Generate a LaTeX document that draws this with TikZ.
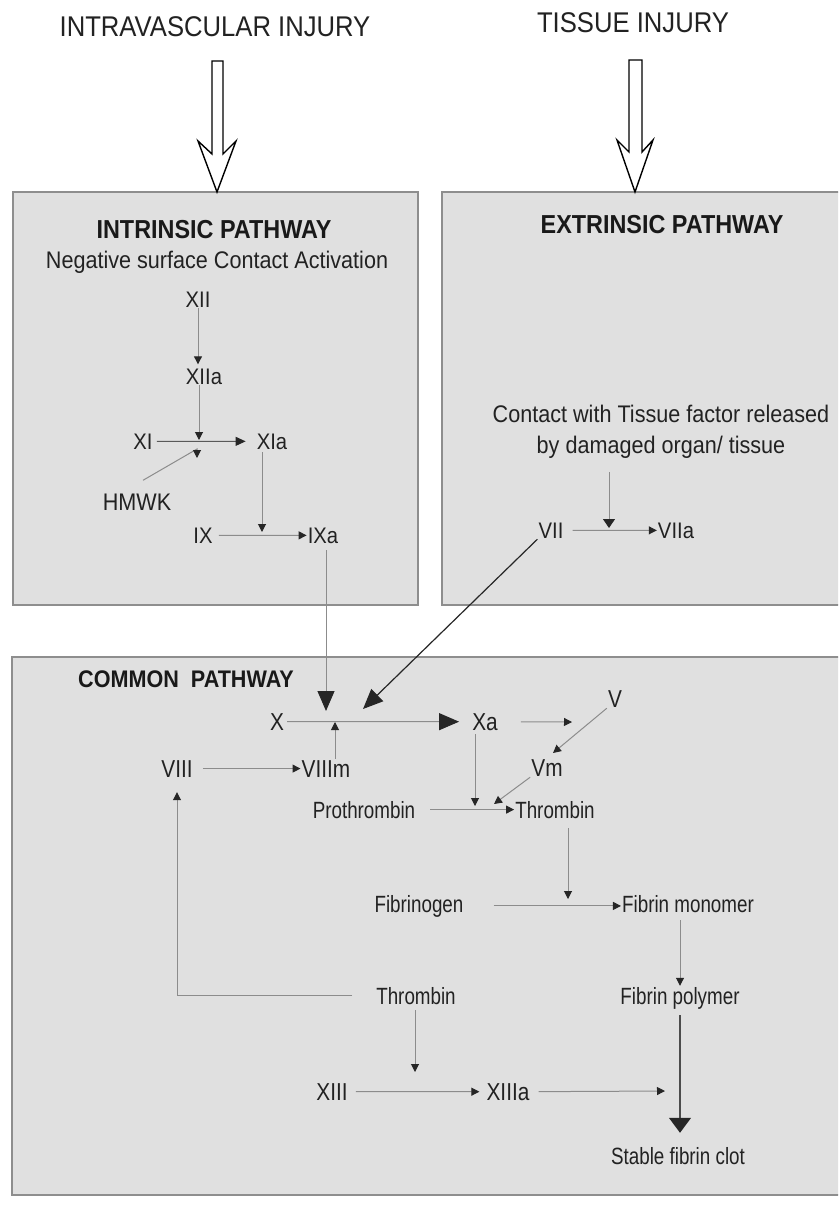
\documentclass[tikz,border=0pt]{standalone}
\usepackage{fontspec}
\setmainfont{Liberation Sans}
\newfontfamily\fA[FakeStretch=0.9]{Liberation Sans}
\newfontfamily\fB[FakeStretch=0.8]{Liberation Sans}
\newfontfamily\fC[FakeStretch=0.85]{Liberation Sans}
\usetikzlibrary{arrows.meta}
\definecolor{boxfill}{HTML}{E0E0E0}
\definecolor{boxline}{HTML}{8E8E8E}
\definecolor{txt}{HTML}{222222}
\definecolor{lgray}{HTML}{8C8C8C}
\definecolor{dk}{HTML}{262626}
\begin{document}
\begin{tikzpicture}[x=1pt,y=-1pt,
  box/.style={draw=boxline, fill=boxfill, line width=1.5pt, inner sep=0pt},
  lbl/.style={anchor=base, inner sep=1pt, text=txt},
  top/.style={lbl, font=\fA\fontsize{28.5}{30}\selectfont},
  ttl/.style={lbl, font=\fA\bfseries\fontsize{26}{28}\selectfont, text=black!90},
  sub/.style={lbl, font=\fA\fontsize{24}{32}\selectfont},
  num/.style={lbl, font=\fA\fontsize{22.5}{25}\selectfont},
  cnum/.style={lbl, font=\fC\fontsize{24.5}{26}\selectfont},
  sm/.style={lbl, font=\fB\fontsize{23.5}{25}\selectfont},
  ln/.style={draw=lgray, line width=1pt},
  tip/.style={ln, -{Triangle[length=8pt,width=8pt,color=dk]}},
  mtip/.style={ln, -{Triangle[length=10pt,width=9pt,color=dk]}},
  bigtip/.style={ln, -{Triangle[length=20pt,width=17pt,color=dk]}},
  hollow/.style={draw=black, line width=1.4pt, fill=white, line join=miter},
]
\useasboundingbox (0,0) rectangle (838,1207);
\fill[white] (0,0) rectangle (838,1207);
\clip (0,0) rectangle (838,1207);

% boxes
\node[box, minimum width=405pt, minimum height=413pt] (intr) at (215.5,398.5) {};
\node[box, minimum width=406pt, minimum height=413pt] (extr) at (645,398.5) {};
\node[box, minimum width=836pt, minimum height=538pt] (comm) at (430,926) {};

% hollow arrows
\draw[hollow] (212,61) -- (212,154) -- (198,141) -- (217,192) -- (236,141) -- (223,154) -- (223,61) -- cycle;
\draw[hollow] (629,60) -- (629,152) -- (617,140) -- (635,192) -- (653,140) -- (642,152) -- (642,60) -- cycle;

% top labels
\node[top] (iv) at (215,37) {INTRAVASCULAR INJURY};
\node[top] (ti) at (633,33) {TISSUE INJURY};

% intrinsic
\node[ttl] (intt) at (214,238) {INTRINSIC PATHWAY};
\node[sub] (neg) at (217,268) {Negative surface Contact Activation};
\node[num] (XII) at (198,307) {XII};
\node[num] (XIIa) at (204,384) {XIIa};
\node[num] (XI) at (143,449) {XI};
\node[num] (XIa) at (272,449) {XIa};
\node[lbl, font=\fA\fontsize{24}{26}\selectfont] (HMWK) at (137,510) {HMWK};
\node[num] (IX) at (203,543) {IX};
\node[num] (IXa) at (323,543) {IXa};

% extrinsic
\node[ttl] (extt) at (662,233) {EXTRINSIC PATHWAY};
\node[sub] (tf1) at (661,422) {Contact with Tissue factor released};
\node[sub] (tf2) at (661,453) {by damaged organ/ tissue};
\node[num] (VII) at (551,538) {VII};
\node[num] (VIIa) at (676,538) {VIIa};

% common
\node[lbl, font=\fA\bfseries\fontsize{24}{26}\selectfont, text=black!90] (comt) at (186,687) {COMMON~~PATHWAY};
\node[cnum] (X) at (277,730) {X};
\node[cnum] (Xa) at (485,730) {Xa};
\node[cnum] (V) at (615,707) {V};
\node[cnum] (Vm) at (547,776) {Vm};
\node[cnum] (VIII) at (177,777) {VIII};
\node[cnum] (VIIIm) at (326,777) {VIIIm};
\node[sm] (proth) at (364,818) {Prothrombin};
\node[sm] (thr) at (555,818) {Thrombin};
\node[sm] (fgen) at (419,912) {Fibrinogen};
\node[sm] (fmono) at (688,912) {Fibrin monomer};
\node[sm] (thr2) at (416,1004) {Thrombin};
\node[sm] (fpoly) at (680,1004) {Fibrin polymer};
\node[cnum] (XIII) at (332,1100) {XIII};
\node[cnum] (XIIIa) at (508,1100) {XIIIa};
\node[sm] (clot) at (678,1164) {Stable fibrin clot};

% junction points
\coordinate (j1) at (199,440);
\coordinate (h1) at (197,449);
\coordinate (h2) at (197,458);
\coordinate (j3) at (262,532);
\coordinate (jx1) at (326,711);
\coordinate (j5) at (609,528);
\coordinate (jx2) at (363,709);
\coordinate (j6) at (335,722);
\coordinate (j7) at (572,722);
\coordinate (j8) at (553,753);
\coordinate (j9) at (494,804);
\coordinate (j10) at (475,806);
\coordinate (j11) at (568,899);
\coordinate (j13) at (665,1091);
\coordinate (j14) at (415,1072);

% intrinsic connectors
\draw[tip, shorten >=3pt] (XII.south) -- (XII.south |- XIIa.north);
\draw[tip] (XIIa.south -| j1) -- (j1);
\draw[mtip, draw=black!65, shorten <=3pt, shorten >=10pt] (XI.east) -- (XIa.west);
\draw[tip] ([shift={(6,-12)}]HMWK.north) -- (h1) -- (h2);
\draw[tip, shorten <=2pt] (XIa.south -| j3) -- (j3);
\draw[tip, shorten <=5pt] (IX.east) -- (IXa.west);
\draw[bigtip, shorten <=6pt] (IXa.south -| jx1) -- (jx1);

% extrinsic connectors
\draw[ln, -{Triangle[length=9pt,width=12pt,color=dk]}, shorten <=13pt] (tf2.south -| j5) -- (j5);
\draw[tip, shorten <=8pt] (VII.east) -- (VIIa.west);
\draw[bigtip, draw=dk, line width=1.2pt] (VII.south west) -- (jx2);

% common connectors
\draw[bigtip, shorten <=2pt, shorten >=12pt] (X.east) -- (Xa.west);
\draw[tip] (VIIIm.north -| j6) -- (j6);
\draw[tip, shorten <=9pt] (VIII.east) -- (VIIIm.west);
\draw[tip, shorten <=22pt] (Xa.east) -- (j7);
\draw[tip] (V.south west) -- (j8);
\draw[tip] (Vm.south west) -- (j9);
\draw[tip, shorten <=3pt] (Xa.south -| j10) -- (j10);
\draw[tip, shorten <=14pt] (proth.east) -- (thr.west);
\draw[tip, shorten <=9pt] (thr.south -| j11) -- (j11);
\draw[tip, shorten <=29pt] (fgen.east) -- (fgen.east -| fmono.west);
\draw[tip, shorten <=7pt] (fmono.south -| fpoly.north) -- (fpoly.north);
\draw[ln, draw=black!70, line width=1.2pt, -{Triangle[length=15pt,width=22pt,color=dk]}, shorten <=5pt, shorten >=13pt] (fpoly.south) -- (fpoly.south |- clot.north);
\draw[tip, shorten <=8pt] (XIIIa.east) -- (j13);
\draw[tip, shorten <=7pt, shorten >=6pt] (XIII.east) -- (XIIIa.west);
\draw[tip, shorten <=5pt] (thr2.south -| j14) -- (j14);
\draw[tip, shorten <=23pt, shorten >=14pt] (thr2.west) -| (VIII.south);
\end{tikzpicture}
\end{document}
